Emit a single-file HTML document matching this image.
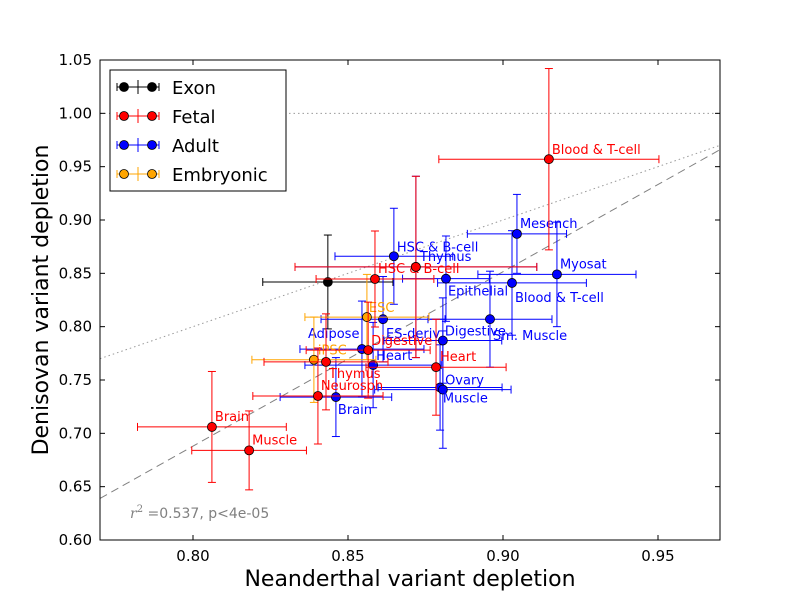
<!DOCTYPE html>
<html><head><meta charset="utf-8"><style>
body{margin:0;background:#fff;}
svg{display:block;font-family:"DejaVu Sans","Liberation Sans",sans-serif;}
</style></head><body>
<svg id="chart" width="800" height="600">
<rect width="800" height="600" fill="#fff"/>
<g id="lines"></g><g id="marks"></g>
<rect x="100" y="60" width="620" height="480" fill="none" stroke="#000" stroke-width="1"/>
<g id="axes"></g>
<text x="410" y="586" font-size="22" text-anchor="middle">Neanderthal variant depletion</text>
<text transform="translate(48,300) rotate(-90)" font-size="22" text-anchor="middle">Denisovan variant depletion</text>
<text x="130" y="518" font-size="14" fill="#808080"><tspan font-family="DejaVu Serif" font-style="italic">r</tspan><tspan font-size="10" dy="-6" font-family="DejaVu Serif">2</tspan><tspan dy="6"> =0.537, p&lt;4e-05</tspan></text>
<g id="legend">
<rect x="110" y="70" width="176" height="121" fill="#fff" stroke="#000"/>
</g>
</svg>
<script>
const fetalLabels=["Blood & T-cell","HSC & B-cell","","Digestive","Heart","Thymus","Neurosph","Brain","Muscle"];
const fetalX=[0.9148,0.8587,0.8719,0.8565,0.8784,0.8429,0.8403,0.8061,0.8181];
const fetalY=[0.957,0.8447,0.856,0.778,0.762,0.767,0.735,0.706,0.684];
const fetalXerr=[0.0355,0.019,0.039,0.02,0.0226,0.02,0.021,0.024,0.0185];
const fetalYerr=[0.085,0.045,0.085,0.045,0.045,0.045,0.045,0.052,0.037];
const adultLabels=["Mesench","Myosat","HSC & B-cell","Thymus","Epithelial","Blood & T-cell","Sm. Muscle","ES-deriv","Digestive","Adipose","Heart","Ovary","Muscle","Brain"];
const adultX=[0.9045,0.9174,0.8648,0.8719,0.8816,0.9029,0.8958,0.8613,0.8806,0.8545,0.8581,0.8797,0.8806,0.8461];
const adultY=[0.887,0.849,0.866,0.856,0.845,0.841,0.807,0.807,0.787,0.779,0.764,0.743,0.741,0.734];
const adultXerr=[0.016,0.0255,0.019,0.039,0.014,0.024,0.02,0.02,0.019,0.02,0.022,0.02,0.022,0.018];
const adultYerr=[0.037,0.049,0.045,0.085,0.04,0.049,0.045,0.04,0.04,0.045,0.04,0.04,0.055,0.037];
const embLabels=["ESC","iPSC"];
const embX=[0.8561,0.839];
const embY=[0.809,0.769];
const embXerr=[0.02,0.02];
const embYerr=[0.04,0.04];
const exonX=[0.8435];
const exonY=[0.8419];
const exonXerr=[0.021];
const exonYerr=[0.044];
const xTicks=[0.80,0.85,0.90,0.95];
const yTicks=[0.60,0.65,0.70,0.75,0.80,0.85,0.90,0.95,1.00,1.05];
const fitSlope=1.635, fitIntercept=-0.620;
// label placement (styling, px offsets)
const fetalOff=[[3,-5],[3,-6],[0,0],[3,-5],[4,-6],[3,16],[3,-6],[3,-6],[3,-6]];
const adultOff=[[3,-6],[3,-6],[3,-5],[4,-6],[2,17],[3,19],[3,21],[3,19],[2,-5],[-54,-11],[3,-5],[5,-3],[0,13],[2,17]];
const embOff=[[2,-5],[4,-5]];

const NS="http://www.w3.org/2000/svg";
const X0=0.77,X1=0.97,Y0=0.60,Y1=1.05,L=100,R=720,T=60,B=540;
const sx=v=>L+(v-X0)/(X1-X0)*(R-L);
const sy=v=>B-(v-Y0)/(Y1-Y0)*(B-T);
function el(tag,attrs,parent){const e=document.createElementNS(NS,tag);for(const k in attrs)e.setAttribute(k,attrs[k]);parent.appendChild(e);return e;}
const axes=document.getElementById('axes'),marks=document.getElementById('marks'),lines=document.getElementById('lines');
xTicks.forEach(t=>{const x=sx(t);
 el('line',{x1:x,x2:x,y1:B,y2:B-5,stroke:'#000'},axes);el('line',{x1:x,x2:x,y1:T,y2:T+5,stroke:'#000'},axes);
 const tx=el('text',{x:x,y:B+21,'font-size':15,'text-anchor':'middle'},axes);tx.textContent=t.toFixed(2);
 
 });
yTicks.forEach(t=>{const y=sy(t);
 el('line',{x1:L,x2:L+5,y1:y,y2:y,stroke:'#000'},axes);el('line',{x1:R,x2:R-5,y1:y,y2:y,stroke:'#000'},axes);
 const tx=el('text',{x:L-8,y:y+5,'font-size':15,'text-anchor':'end'},axes);tx.textContent=t.toFixed(2);
 
 });
let ln=el('line',{x1:L,x2:R,y1:sy(1),y2:sy(1),stroke:'#999','stroke-dasharray':'1.5,3'},lines);


ln=el('line',{x1:L,x2:R,y1:sy(X0),y2:sy(X1),stroke:'#999','stroke-dasharray':'1.5,3'},lines);


ln=el('line',{x1:L,x2:R,y1:sy(fitSlope*X0+fitIntercept),y2:sy(fitSlope*X1+fitIntercept),stroke:'#808080','stroke-dasharray':'8,5'},lines);



function series(name,color,xs,ys,xe,ye,labels,offs){
 const gE=el('g',{},marks);
 
 
 xs.forEach((v,i)=>{const x=sx(v),y=sy(ys[i]),xa=sx(v-xe[i]),xb=sx(v+xe[i]),ya=sy(ys[i]+ye[i]),yb=sy(ys[i]-ye[i]);
  el('line',{x1:xa,x2:xb,y1:y,y2:y,stroke:color},gE);
  el('line',{x1:x,x2:x,y1:ya,y2:yb,stroke:color},gE);
  [[xa,y-4,xa,y+4],[xb,y-4,xb,y+4],[x-4,ya,x+4,ya],[x-4,yb,x+4,yb]].forEach(c=>el('line',{x1:c[0],y1:c[1],x2:c[2],y2:c[3],stroke:color},gE));
 });
 xs.forEach((v,i)=>{const c=el('circle',{cx:sx(v),cy:sy(ys[i]),r:4.5,fill:color,stroke:'#000','stroke-width':0.8},marks);
  
  
  if(labels&&labels[i]){const t=el('text',{x:sx(v)+offs[i][0],y:sy(ys[i])+offs[i][1],'font-size':13,fill:color},marks);t.textContent=labels[i];
   
   }
 });
}
series('exon','#000',exonX,exonY,exonXerr,exonYerr,null,null);
series('adult','#0000ff',adultX,adultY,adultXerr,adultYerr,adultLabels,adultOff);
series('embryonic','#ffa500',embX,embY,embXerr,embYerr,embLabels,embOff);
series('fetal','#ff0000',fetalX,fetalY,fetalXerr,fetalYerr,fetalLabels,fetalOff);

const lg=document.getElementById('legend');
[['Exon','#000'],['Fetal','#f00'],['Adult','#00f'],['Embryonic','#ffa500']].forEach((e,i)=>{const y=87+i*29;
 const g=el('g',{},lg);
 
 
 el('line',{x1:117,x2:159,y1:y,y2:y,stroke:e[1]},g);
 el('line',{x1:138,x2:138,y1:y-7,y2:y+7,stroke:e[1]},g);
 [117,159].forEach(x=>el('line',{x1:x,x2:x,y1:y-4,y2:y+4,stroke:e[1]},g));
 el('circle',{cx:124,cy:y,r:4.5,fill:e[1],stroke:'#000','stroke-width':0.8},g);
 el('circle',{cx:152,cy:y,r:4.5,fill:e[1],stroke:'#000','stroke-width':0.8},g);
 const t=el('text',{x:172,y:y+7,'font-size':18},g);t.textContent=e[0];
});
</script>
</body></html>
